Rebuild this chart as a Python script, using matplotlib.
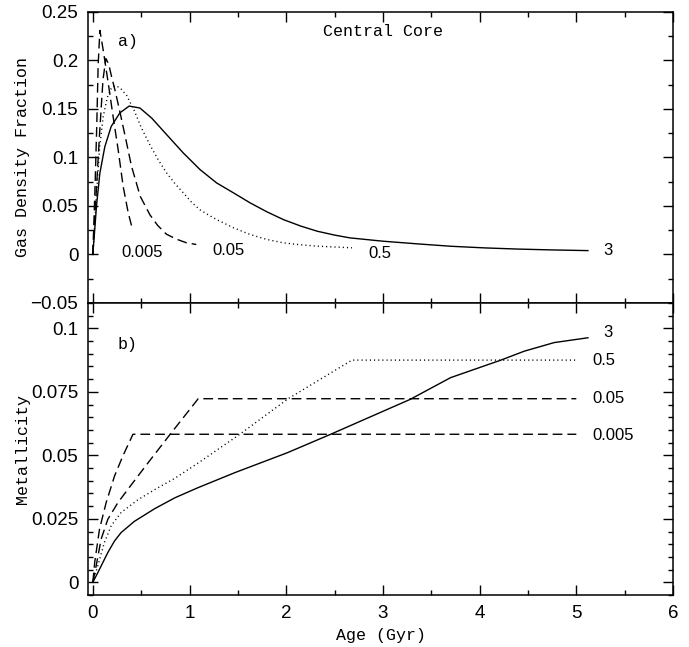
import matplotlib
matplotlib.use("Agg")
import matplotlib.pyplot as plt
from matplotlib.ticker import MultipleLocator

# Panel a) gas density fraction vs age, one curve per parameter value
age_a_0005 = [0, 0.02, 0.04, 0.055, 0.073, 0.107, 0.159, 0.21, 0.262, 0.314, 0.366, 0.41]
gas_0005 = [0, 0.06, 0.13, 0.195, 0.231, 0.211, 0.177, 0.142, 0.108, 0.070, 0.043, 0.026]

age_a_005 = [0, 0.03, 0.07, 0.105, 0.135, 0.165, 0.19, 0.235, 0.28, 0.33, 0.40, 0.49, 0.59,
             0.67, 0.76, 0.86, 0.97, 1.07]
gas_005 = [0, 0.055, 0.125, 0.18, 0.202, 0.196, 0.185, 0.167, 0.147, 0.124, 0.091, 0.060, 0.041,
           0.030, 0.021, 0.016, 0.012, 0.0103]

age_a_05 = [0, 0.03, 0.07, 0.107, 0.15, 0.19, 0.23, 0.28, 0.35, 0.43, 0.50, 0.59, 0.68, 0.764,
            0.85, 0.936, 1.02, 1.109, 1.2, 1.28, 1.455, 1.627, 1.8, 1.97, 2.15, 2.32, 2.5, 2.68]
gas_05 = [0, 0.05, 0.11, 0.142, 0.162, 0.171, 0.174, 0.172, 0.164, 0.148, 0.131, 0.113, 0.097,
          0.084, 0.073, 0.0635, 0.054, 0.046, 0.0405, 0.036, 0.0275, 0.0206, 0.0155, 0.012,
          0.010, 0.0086, 0.0077, 0.0069]

age_a_3 = [0, 0.02, 0.038, 0.073, 0.124, 0.19, 0.28, 0.376, 0.487, 0.61, 0.764, 0.936, 1.109,
           1.28, 1.455, 1.627, 1.8, 1.97, 2.15, 2.32, 2.5, 2.66, 3.0, 3.35, 3.7, 4.05, 4.39,
           4.75, 5.12]
gas_3 = [0, 0.026, 0.05, 0.084, 0.111, 0.132, 0.146, 0.153, 0.151, 0.1405, 0.1235, 0.1046,
         0.0875, 0.0738, 0.0635, 0.0532, 0.0440, 0.036, 0.0293, 0.024, 0.0200, 0.0171, 0.0137,
         0.011, 0.0085, 0.0068, 0.0056, 0.0047, 0.0040]

# Panel b) metallicity vs age
age_b_0005 = [0, 0.02, 0.069, 0.138, 0.225, 0.31, 0.415, 5.0]
met_0005 = [0, 0.008, 0.0209, 0.0314, 0.0419, 0.0497, 0.0583, 0.0583]

age_b_005 = [0, 0.035, 0.086, 0.155, 0.26, 0.40, 0.57, 0.8, 1.09, 5.0]
met_005 = [0, 0.0066, 0.017, 0.0248, 0.0314, 0.0385, 0.047, 0.0583, 0.0723, 0.0723]

age_b_05 = [0, 0.052, 0.12, 0.19, 0.293, 0.466, 0.64, 0.85, 1.09, 1.52, 2.02, 2.68, 5.0]
met_05 = [0, 0.0066, 0.0157, 0.0223, 0.0275, 0.0325, 0.0365, 0.041, 0.047, 0.0583, 0.0723,
          0.0875, 0.0875]

age_b_3 = [0, 0.052, 0.104, 0.155, 0.225, 0.293, 0.43, 0.64, 0.85, 1.09, 1.47, 2.01, 2.46,
           3.04, 3.28, 3.70, 4.22, 4.46, 4.77, 5.12]
met_3 = [0, 0.0038, 0.0078, 0.0117, 0.0163, 0.0196, 0.0240, 0.0290, 0.0333, 0.0373, 0.0432,
         0.051, 0.0583, 0.068, 0.072, 0.0806, 0.0875, 0.091, 0.0944, 0.0963]

curve_names = ["0.005", "0.05", "0.5", "3"]

mono = "Liberation Mono"
sans = "Liberation Sans"
dash = (0, (7, 3.6))
dot = (0, (0.8, 2.2))

fig = plt.figure(figsize=(6.89, 6.47), dpi=100)
ax1 = fig.add_axes([0.1277, 0.5317, 0.8491, 0.4498])
ax2 = fig.add_axes([0.1277, 0.0804, 0.8491, 0.4513])

ax1.plot(age_a_0005, gas_0005, color="black", lw=1.0, linestyle=dash)
ax1.plot(age_a_005, gas_005, color="black", lw=1.0, linestyle=dash)
ax1.plot(age_a_05, gas_05, color="black", lw=1.0, linestyle=dot)
ax1.plot(age_a_3, gas_3, color="black", lw=1.0)

ax2.plot(age_b_0005, met_0005, color="black", lw=1.0, linestyle=dash)
ax2.plot(age_b_005, met_005, color="black", lw=1.0, linestyle=dash)
ax2.plot(age_b_05, met_05, color="black", lw=1.0, linestyle=dot)
ax2.plot(age_b_3, met_3, color="black", lw=1.0)

# curve labels
for (x, y), name in zip([(0.30, 0.002), (1.24, 0.004), (2.85, 0.001), (5.28, 0.004)], curve_names):
    ax1.text(x, y, name, fontsize=12, family=sans, va="center", ha="left")
for (x, y), name in zip([(5.17, 0.0580), (5.17, 0.0722), (5.17, 0.0874), (5.28, 0.0985)], curve_names):
    ax2.text(x, y, name, fontsize=12, family=sans, va="center", ha="left")

ax1.text(3.0, 0.2295, "Central Core", fontsize=12, family=mono, ha="center", va="center")
ax1.text(0.26, 0.220, "a)", fontsize=12, family=mono, ha="left", va="center")
ax2.text(0.26, 0.0937, "b)", fontsize=12, family=mono, ha="left", va="center")

ax1.set_xlim(-0.05, 6)
ax1.set_ylim(-0.05, 0.25)
ax2.set_xlim(-0.05, 6)
ax2.set_ylim(-0.005, 0.11)


def fmt(v, pos):
    s = f"{v:.3f}".rstrip("0").rstrip(".")
    if s in ("-0", "0.0", ""):
        s = "0"
    return s.replace("-", "\u2212")


ax1.yaxis.set_major_locator(MultipleLocator(0.05))
ax1.yaxis.set_minor_locator(MultipleLocator(0.025))
ax2.yaxis.set_major_locator(MultipleLocator(0.025))
ax2.yaxis.set_minor_locator(MultipleLocator(0.005))
for ax in (ax1, ax2):
    ax.xaxis.set_major_locator(MultipleLocator(1))
    ax.xaxis.set_minor_locator(MultipleLocator(0.5))
    ax.xaxis.set_major_formatter(fmt)
    ax.yaxis.set_major_formatter(fmt)
    ax.tick_params(which="both", direction="in", top=True, right=True, width=1.0,
                   labelsize=13.5, labelfontfamily=sans)
    ax.tick_params(which="major", length=7.2, pad=7)
    ax.tick_params(which="minor", length=3.6)
    for s in ax.spines.values():
        s.set_linewidth(1.1)

ax1.tick_params(labelbottom=False)

ax1.set_ylabel("Gas Density Fraction", fontsize=12, family=mono)
ax2.set_ylabel("Metallicity", fontsize=12, family=mono)
ax2.set_xlabel("Age (Gyr)", fontsize=12, family=mono)
ax1.yaxis.set_label_coords(-0.099, 0.5)
ax2.yaxis.set_label_coords(-0.099, 0.5)
ax2.xaxis.set_label_coords(0.5, -0.112)

plt.savefig("out.png", dpi=100)
